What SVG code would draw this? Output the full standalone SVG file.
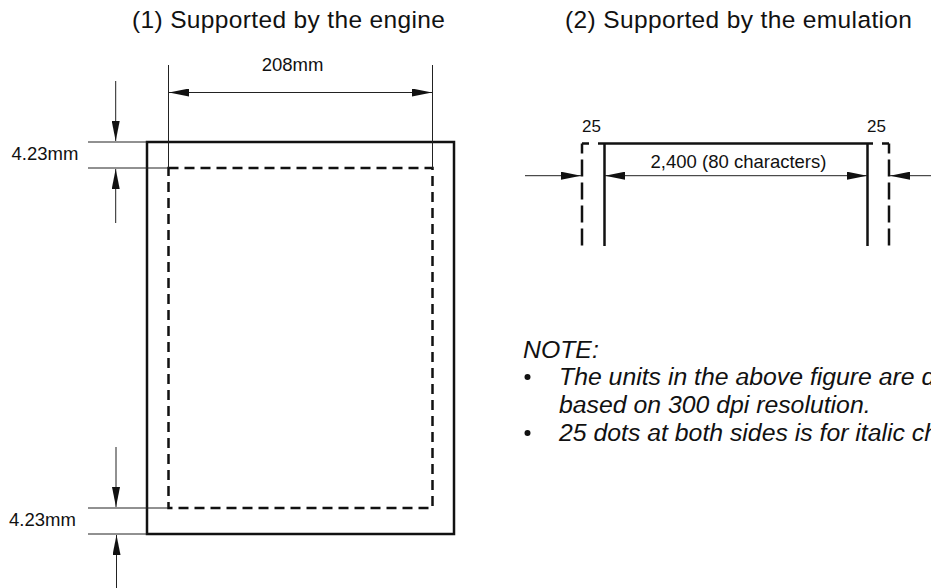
<svg xmlns="http://www.w3.org/2000/svg" width="931" height="588" viewBox="0 0 931 588">
<defs>
<style>
.t{font-family:"Liberation Sans",Arial,sans-serif;fill:#111}
.title{font-size:24.5px}
.lbl{font-size:18.5px}
.small{font-size:17px}
.note{font-size:24.8px;font-style:italic}
.thin{stroke:#222;stroke-width:1;fill:none}
.thick{stroke:#111;stroke-width:2.5;fill:none}
.dash{stroke:#111;stroke-width:2.5;fill:none;stroke-dasharray:10 6}
</style>
<marker id="ah" viewBox="0 0 20 8" refX="20" refY="4" markerWidth="20" markerHeight="8" markerUnits="userSpaceOnUse" orient="auto">
<path d="M0,0 L20,4 L0,8 Z" fill="#111"/>
</marker>
</defs>
<rect width="931" height="588" fill="#fff"/>
<text class="t title" x="132" y="28" textLength="313" lengthAdjust="spacing">(1) Supported by the engine</text>
<text class="t title" x="565" y="28" textLength="347" lengthAdjust="spacing">(2) Supported by the emulation</text>

<g id="page-engine">
<rect class="thick" x="147" y="142" width="307" height="392"/>
<rect class="dash" x="168.5" y="168" width="264" height="340"/>
</g>

<g id="page-emulation">
<line class="thick" x1="598" y1="143.5" x2="873" y2="143.5"/>
<line class="thick" x1="604.5" y1="143.5" x2="604.5" y2="246"/>
<line class="thick" x1="867.5" y1="143.5" x2="867.5" y2="246"/>
<path class="dash" d="M589,143.5 H582 V246" style="stroke-dasharray:7 0 10 6"/>
<path class="dash" d="M882,143.5 H889 V246" style="stroke-dasharray:7 0 10 6"/>
</g>

<g id="labels">
<text class="t lbl" x="292.5" y="70.5" text-anchor="middle">208mm</text>
<text class="t lbl" x="11.5" y="160">4.23mm</text>
<text class="t lbl" x="9" y="526">4.23mm</text>
<text class="t small" x="582" y="132">25</text>
<text class="t small" x="867" y="132">25</text>
<text class="t lbl" x="738.5" y="168" text-anchor="middle">2,400 (80 characters)</text>
</g>

<g id="connectors">
<line class="thin" x1="168.5" y1="65" x2="168.5" y2="168"/>
<line class="thin" x1="432.5" y1="65" x2="432.5" y2="168"/>
<line class="thin" x1="300" y1="92.5" x2="169" y2="92.5" marker-end="url(#ah)"/>
<line class="thin" x1="300" y1="92.5" x2="432" y2="92.5" marker-end="url(#ah)"/>
<line class="thin" x1="88" y1="142" x2="147" y2="142"/>
<line class="thin" x1="88" y1="168" x2="168" y2="168"/>
<line class="thin" x1="115.7" y1="81" x2="115.7" y2="141" marker-end="url(#ah)"/>
<line class="thin" x1="115.7" y1="223" x2="115.7" y2="169" marker-end="url(#ah)"/>
<line class="thin" x1="88" y1="508" x2="168" y2="508"/>
<line class="thin" x1="88" y1="534" x2="147" y2="534"/>
<line class="thin" x1="116" y1="447" x2="116" y2="507" marker-end="url(#ah)"/>
<line class="thin" x1="116.5" y1="588" x2="116.5" y2="535" marker-end="url(#ah)"/>
<line class="thin" x1="736" y1="175.7" x2="605" y2="175.7" marker-end="url(#ah)"/>
<line class="thin" x1="736" y1="175.7" x2="867" y2="175.7" marker-end="url(#ah)"/>
<line class="thin" x1="525" y1="175.7" x2="581" y2="175.7" marker-end="url(#ah)"/>
<line class="thin" x1="931" y1="175.7" x2="890" y2="175.7" marker-end="url(#ah)"/>
</g>

<g id="note">
<text class="t note" x="523" y="358">NOTE:</text>
<circle cx="527.5" cy="377" r="3" fill="#111"/>
<text class="t note" x="559" y="385">The units in the above figure are d</text>
<text class="t note" x="559" y="413">based on 300 dpi resolution.</text>
<circle cx="527.5" cy="433" r="3" fill="#111"/>
<text class="t note" x="559" y="441">25 dots at both sides is for italic ch</text>
</g>
</svg>
